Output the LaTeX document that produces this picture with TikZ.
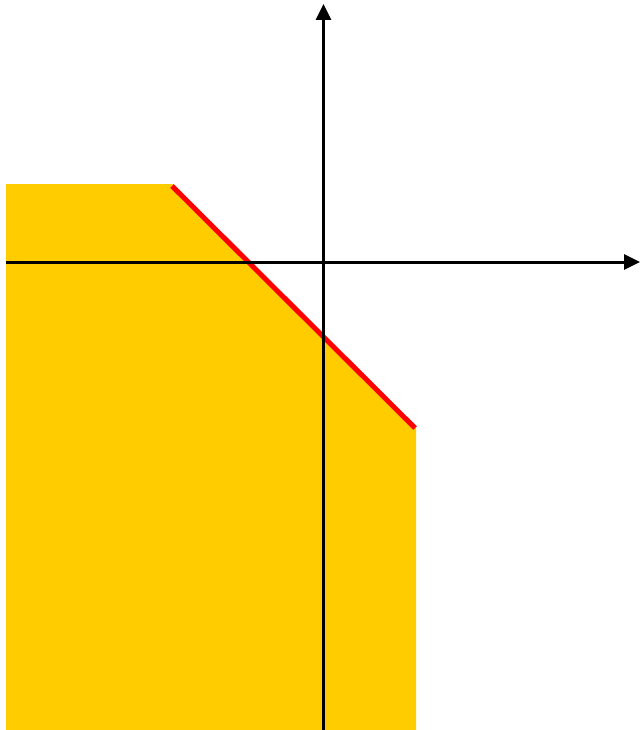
\documentclass[tikz,border=0pt]{standalone}
\usetikzlibrary{arrows.meta}
\definecolor{fillyellow}{HTML}{FFCC00}
\definecolor{linered}{HTML}{FF0000}
\tikzset{
  axis/.style={line width=3pt, -{Triangle[length=16pt,width=15pt]}},
  region/.style={fill=fillyellow, draw=none},
  boundary/.style={draw=linered, line width=5pt}
}
\begin{document}
\begin{tikzpicture}[x=1pt,y=-1pt]
\useasboundingbox (0,0) rectangle (640,730);
\coordinate (tl) at (6,184);
\coordinate (rtop) at (172,184);
\coordinate (rbot) at (416,428);
\coordinate (br) at (416,730);
\coordinate (bl) at (6,730);
\fill[region] (tl) -- (rtop) -- (rbot) -- (br) -- (bl) -- cycle;
\draw[boundary] (172,186) -- (415,428);
\coordinate (xs) at (6,262);
\coordinate (xe) at (640,262);
\coordinate (ys) at (323.5,730);
\coordinate (ye) at (323.5,4);
\draw[axis] (xs) -- (xe);
\draw[axis] (ys) -- (ye);
\end{tikzpicture}
\end{document}
